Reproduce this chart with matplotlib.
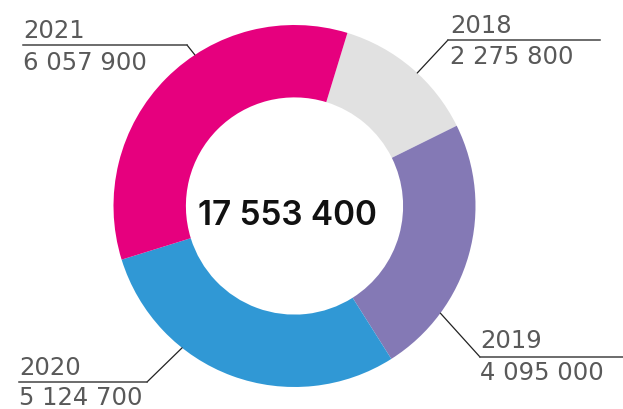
import numpy as np
from matplotlib import pyplot as plt
from matplotlib.lines import Line2D

years = ['2018', '2019', '2020', '2021']
values = [2275800, 4095000, 5124700, 6057900]
colors = ['#E1E1E1', '#8479B5', '#3098D5', '#E6007E']
total_label = '17 553 400'

W, H = 623, 409


def fmt(v):   # thousands with spaces
    return '{:,}'.format(v).replace(',', ' ')


fig = plt.figure(figsize=(W / 100, H / 100), dpi=100)
cx, cy, r = 294.5, 206, 181
ax = fig.add_axes([(cx - r) / W, (H - cy - r) / H, 2 * r / W, 2 * r / H])
ax.pie(values, colors=colors, startangle=73, counterclock=False,
       wedgeprops=dict(width=0.4, linewidth=0))
ax.set_xlim(-1, 1)
ax.set_ylim(-1, 1)
ax.set_aspect('equal')
ax.axis('off')

ax.text(-0.039, -0.105, total_label, ha='center', va='baseline', fontsize=24,
        fontweight='semibold', family='Inter', color='#111111')

# label layout: anchor angle (clockwise from top), elbow, line end, text x, baselines (pixels, top-left origin)
layout = {
    '2018': dict(ang=42.7, elbow=(448, 40), end=(600, 40), tx=450, b1=33, b2=64),
    '2019': dict(ang=126.3, elbow=(480, 357), end=(623, 357), tx=480, b1=348, b2=380),
    '2020': dict(ang=218.4, elbow=(147, 382), end=(19, 382), tx=19, b1=375, b2=405),
    '2021': dict(ang=326.6, elbow=(187, 45), end=(23, 45), tx=23, b1=38, b2=70),
}

for year, v in zip(years, values):
    L = layout[year]
    t = np.radians(90 - L['ang'])
    ax.annotate('', xy=(np.cos(t), np.sin(t)), xycoords='data',
                xytext=(L['elbow'][0], H - L['elbow'][1]), textcoords='figure pixels',
                arrowprops=dict(arrowstyle='-', color='#222222', lw=0.9,
                                shrinkA=0, shrinkB=0))
    fig.add_artist(Line2D([L['elbow'][0] / W, L['end'][0] / W],
                          [1 - L['elbow'][1] / H, 1 - L['end'][1] / H],
                          color='#444444', lw=1.1))
    fig.text(L['tx'] / W, 1 - L['b1'] / H, year, fontsize=17.5, family='DejaVu Sans',
             color='#595959', va='baseline', ha='left')
    fig.text(L['tx'] / W, 1 - L['b2'] / H, fmt(v), fontsize=17.5, family='DejaVu Sans',
             color='#595959', va='baseline', ha='left')

fig.savefig('out.png', dpi=100)
